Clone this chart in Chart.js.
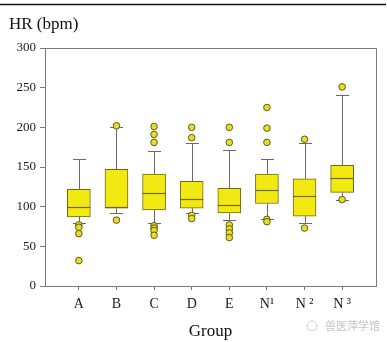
<!DOCTYPE html>
<html>
<head>
<meta charset="utf-8">
<script src="https://cdn.jsdelivr.net/npm/chart.js@4.4.1/dist/chart.umd.min.js"></script>
<style>
  html, body { margin: 0; padding: 0; background: #ffffff; }
  #wrap { width: 387px; height: 342px; position: relative; }
</style>
</head>
<body>
<div id="wrap"><canvas id="c" width="387" height="342"></canvas></div>
<script>
// ---- data ----
const categories = ['A', 'B', 'C', 'D', 'E', 'N\u00B9', 'N \u00B2', 'N \u00B3'];
const whiskerLow  = [79, 92, 80, 92, 83, 85, 79, 109];
const quartile1   = [87, 98, 96, 98, 92, 104, 88, 118];
const medians     = [99, 100, 117, 110, 102, 121, 114, 136];
const quartile3   = [122, 147, 141, 132, 123, 141, 135, 152];
const whiskerHigh = [160, 200, 170, 180, 171, 160, 180, 241];
const outliers = [
  [77, 74, 66, 32],
  [202, 83],
  [201, 191, 181, 76, 73, 70, 64],
  [200, 187, 89, 85],
  [200, 181, 77, 72, 67, 61],
  [225, 199, 181, 84, 81],
  [185, 73],
  [251, 109]
];
const yTicks = [0, 50, 100, 150, 200, 250, 300];
const yTitle = 'HR (bpm)';
const xTitle = 'Group';
const watermark = '兽医萍学馆';

// ---- build datasets ----
const boxData = categories.map((c, i) => ({ x: i + 1, y: [quartile1[i], quartile3[i]] }));
const outlierData = [];
outliers.forEach((arr, i) => arr.forEach(v => outlierData.push({ x: i + 1, y: v })));

const SERIF = "'Liberation Serif', 'DejaVu Serif', serif";
const AXIS = '#7a7a7a';
const OLIVE = '#6f6a10';
const YELLOW = '#f2e812';

const boxPlugin = {
  id: 'boxParts',
  beforeDatasetsDraw(chart) {
    const { ctx, scales: { x, y } } = chart;
    ctx.save();
    ctx.strokeStyle = '#6a6a6a';
    ctx.lineWidth = 1;
    categories.forEach((c, i) => {
      const px = Math.round(x.getPixelForValue(i + 1)) + 0.5;
      const capHalf = 6.5;
      const segs = [[whiskerHigh[i], quartile3[i]], [quartile1[i], whiskerLow[i]]];
      segs.forEach(([a, b]) => {
        ctx.beginPath();
        ctx.moveTo(px, y.getPixelForValue(a));
        ctx.lineTo(px, y.getPixelForValue(b));
        ctx.stroke();
      });
      [whiskerHigh[i], whiskerLow[i]].forEach(v => {
        const py = Math.round(y.getPixelForValue(v)) + 0.5;
        ctx.beginPath();
        ctx.moveTo(px - capHalf, py);
        ctx.lineTo(px + capHalf, py);
        ctx.stroke();
      });
    });
    ctx.restore();
  },
  afterDatasetsDraw(chart) {
    const { ctx, scales: { x, y } } = chart;
    const meta = chart.getDatasetMeta(1);
    ctx.save();
    ctx.strokeStyle = OLIVE;
    ctx.lineWidth = 1.2;
    categories.forEach((c, i) => {
      const bar = meta.data[i];
      const half = bar.width / 2;
      const px = x.getPixelForValue(i + 1);
      const py = Math.round(y.getPixelForValue(medians[i])) + 0.5;
      ctx.beginPath();
      ctx.moveTo(px - half, py);
      ctx.lineTo(px + half, py);
      ctx.stroke();
    });
    ctx.restore();
  },
  afterDraw(chart) {
    const { ctx, chartArea: a } = chart;
    ctx.save();
    ctx.strokeStyle = AXIS;
    ctx.lineWidth = 1;
    ctx.beginPath();
    ctx.moveTo(a.left, Math.round(a.top) + 0.5);
    ctx.lineTo(Math.round(a.right) + 0.5, Math.round(a.top) + 0.5);
    ctx.lineTo(Math.round(a.right) + 0.5, a.bottom);
    ctx.stroke();
    ctx.strokeStyle = '#111';
    ctx.lineWidth = 1.5;
    ctx.beginPath();
    ctx.moveTo(0, 4.5);
    ctx.lineTo(386, 4.5);
    ctx.stroke();
    ctx.fillStyle = '#111';
    ctx.font = '17px ' + SERIF;
    ctx.textAlign = 'left';
    ctx.textBaseline = 'alphabetic';
    ctx.fillText(yTitle, 9, 29);
    ctx.fillStyle = '#c4c4c4';
    ctx.font = "11px 'Noto Sans CJK SC', sans-serif";
    ctx.fillText(watermark, 325, 330);
    ctx.strokeStyle = '#cfcfcf';
    ctx.lineWidth = 1;
    ctx.beginPath();
    ctx.arc(312, 326, 5, 0, Math.PI * 2);
    ctx.stroke();
    ctx.restore();
  }
};

new Chart(document.getElementById('c'), {
  data: {
    datasets: [
      {
        type: 'scatter',
        data: outlierData,
        pointRadius: 3.3,
        pointBackgroundColor: '#e6dd2a',
        pointBorderColor: '#5f5a10',
        pointBorderWidth: 1
      },
      {
        type: 'bar',
        data: boxData,
        barThickness: 23,
        backgroundColor: YELLOW,
        borderColor: OLIVE,
        borderWidth: 1,
        borderSkipped: false
      }
    ]
  },
  options: {
    responsive: false,
    animation: false,
    events: [],
    layout: { padding: { top: 48, right: 11, left: 0, bottom: 0 } },
    plugins: { legend: { display: false }, tooltip: { enabled: false }, title: { display: false } },
    scales: {
      x: {
        type: 'linear',
        offset: false,
        min: 0.1,
        max: 8.9,
        afterBuildTicks(scale) { scale.ticks = categories.map((c, i) => ({ value: i + 1 })); },
        afterFit(scale) { scale.height = 56; },
        ticks: {
          callback: (v) => categories[v - 1],
          color: '#1a1a1a',
          font: { family: SERIF, size: 14 },
          padding: 6,
          maxRotation: 0,
          autoSkip: false
        },
        grid: { offset: false, drawOnChartArea: false, drawTicks: true, tickLength: 4, tickColor: AXIS },
        border: { color: AXIS, width: 1 },
        title: { display: true, text: xTitle, color: '#111', font: { family: SERIF, size: 17 }, padding: { top: 4, bottom: 0 } }
      },
      y: {
        min: 0,
        max: 300,
        afterBuildTicks(scale) { scale.ticks = yTicks.map(v => ({ value: v })); },
        afterFit(scale) { scale.width = 45; },
        ticks: { color: '#1a1a1a', font: { family: SERIF, size: 13 }, padding: 4 },
        grid: { drawOnChartArea: false, drawTicks: true, tickLength: 5, tickColor: AXIS },
        border: { color: AXIS, width: 1 }
      }
    }
  },
  plugins: [boxPlugin]
});
</script>
</body>
</html>
